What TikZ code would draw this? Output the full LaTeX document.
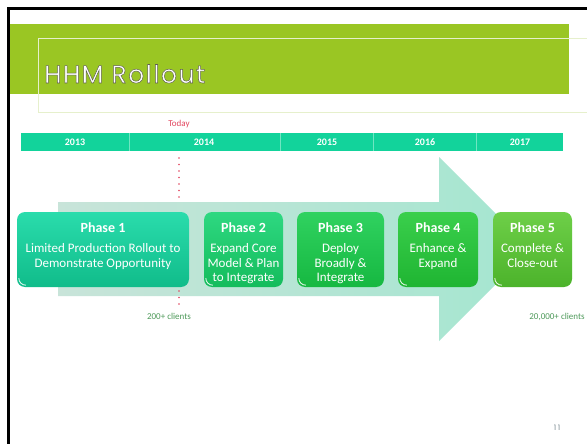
\documentclass[tikz,border=0pt]{standalone}
\usepackage{fontspec}
\setmainfont{Carlito}
\newfontfamily\titlefont[LetterSpace=6]{Poppins}
\newfontfamily\numfont[LetterSpace=20]{Poppins}
\definecolor{titlegreen}{HTML}{9AC623}
\definecolor{outlinec}{HTML}{E6F0CC}
\definecolor{barteal}{HTML}{12D39B}
\definecolor{bardiv}{HTML}{6FE6C2}
\definecolor{arrowc}{HTML}{A4E6D0}
\definecolor{arrowl}{HTML}{C8E4D9}
\definecolor{todayred}{HTML}{E2455E}
\definecolor{clientc}{HTML}{4E9A5A}
\definecolor{pa1}{HTML}{2ADCAC}\definecolor{pb1}{HTML}{10BC8A}
\definecolor{pa2}{HTML}{2ED881}\definecolor{pb2}{HTML}{14BC5C}
\definecolor{pa3}{HTML}{30D260}\definecolor{pb3}{HTML}{16B841}
\definecolor{pa4}{HTML}{3ACF4C}\definecolor{pb4}{HTML}{1FB532}
\definecolor{pa5}{HTML}{6ECF48}\definecolor{pb5}{HTML}{4CB32B}
\definecolor{pagegray}{HTML}{7A8A90}
\newcommand{\outlinedtext}[1]{\special{pdf:literal direct 2 Tr 0.5 w 0.38 0.38 0.32 RG}#1\special{pdf:literal direct 0 Tr}}
\tikzset{
  phasebox/.style={rounded corners=8pt, minimum height=75pt, inner sep=0pt},
  phasehead/.style={font=\fontsize{14}{16}\selectfont\bfseries, text=white, anchor=base, inner sep=0pt},
  phasebody/.style={font=\fontsize{13}{14.5}\selectfont, text=white, anchor=north, align=center, inner sep=0pt},
  yearlabel/.style={font=\fontsize{10}{12}\selectfont\bfseries, text=white, inner sep=0pt},
  clientlabel/.style={font=\fontsize{9}{10}\selectfont, text=clientc, inner sep=0pt},
  titletext/.style={font=\titlefont\fontsize{25}{28}\selectfont, anchor=base west, inner sep=0pt},
  reddots/.style={todayred, line width=1.6pt, line cap=round, dash pattern=on 0pt off 6.5pt},
  corner/.style={white, line width=0.9pt, opacity=0.85}
}
\begin{document}
\begin{tikzpicture}[x=1pt,y=-1pt]
\useasboundingbox (0,0) rectangle (587,444);
\fill[white] (0,0) rectangle (587,444);
% slide frame
\draw[black, line width=3pt] (8.5,446) -- (8.5,8.5) -- (590,8.5);
% title bar
\fill[titlegreen] (10,24) rectangle (569,94);
\draw[outlinec, line width=1pt] (38,113) -- (38,39) -- (590,39);
\draw[outlinec, line width=1pt] (38,113) -- (590,113);
\node[titletext, text=white] (title) at (44,83) {\outlinedtext{HHM Rollout}};
% timeline bar
\fill[barteal] (21,133) rectangle (563,151);
\foreach \x in {129,280,373,476}
  \draw[bardiv, line width=0.8pt] (\x,133) -- (\x,151);
\node[yearlabel] (y2013) at (75,142) {2013};
\node[yearlabel] (y2014) at (204,142) {2014};
\node[yearlabel] (y2015) at (327,142) {2015};
\node[yearlabel] (y2016) at (425,142) {2016};
\node[yearlabel] (y2017) at (520,142) {2017};
% today marker
\node[font=\fontsize{9}{11}\selectfont, text=todayred, inner sep=0pt] (today) at (179,124) {Today};
\coordinate (d1) at (179,158);
\coordinate (d2) at (179,201);
\coordinate (d3) at (179,291);
\coordinate (d4) at (179,305);
% arrow
\path[left color=arrowl, right color=arrowc] (58,202) -- (439,202) -- (439,157) -- (531,249) -- (439,341) -- (439,296) -- (58,296) -- cycle;
\draw[reddots] (d1) -- (d2);
\draw[reddots] (d3) -- (d4);
% phase boxes
\node[phasebox, minimum width=172pt, top color=pa1, bottom color=pb1] (p1) at (103,249.5) {};
\node[phasebox, minimum width=79pt, top color=pa2, bottom color=pb2] (p2) at (243.5,249.5) {};
\node[phasebox, minimum width=87pt, top color=pa3, bottom color=pb3] (p3) at (340.5,249.5) {};
\node[phasebox, minimum width=80pt, top color=pa4, bottom color=pb4] (p4) at (438,249.5) {};
\node[phasebox, minimum width=79pt, top color=pa5, bottom color=pb5] (p5) at (532.5,249.5) {};
\foreach \p in {p1,p2,p3,p4,p5}
  \draw[corner] ([xshift=2pt,yshift=9pt]\p.south west) arc[start angle=180, end angle=270, radius=7pt];
\foreach \p/\n in {p1/1,p2/2,p3/3,p4/4,p5/5}
  \node[phasehead] (h\n) at ([yshift=-21pt]\p.north) {Phase \n};
\node[phasebody] (b1) at ([yshift=-31.5pt]p1.north) {Limited Production Rollout to\\Demonstrate Opportunity};
\node[phasebody] (b2) at ([yshift=-31.5pt]p2.north) {Expand Core\\Model \& Plan\\to Integrate};
\node[phasebody] (b3) at ([yshift=-31.5pt]p3.north) {Deploy\\Broadly \&\\Integrate};
\node[phasebody] (b4) at ([yshift=-31.5pt]p4.north) {Enhance \&\\Expand};
\node[phasebody] (b5) at ([yshift=-31.5pt]p5.north) {Complete \&\\Close-out};
% client counts
\node[clientlabel] (c200) at (169,316) {200+ clients};
\node[clientlabel] (c20000) at (557,317) {20,000+ clients};
% page number
\node[font=\numfont\fontsize{7.5}{9}\selectfont, text=pagegray, inner sep=0pt] (page) at (557,428) {11};
\end{tikzpicture}
\end{document}
